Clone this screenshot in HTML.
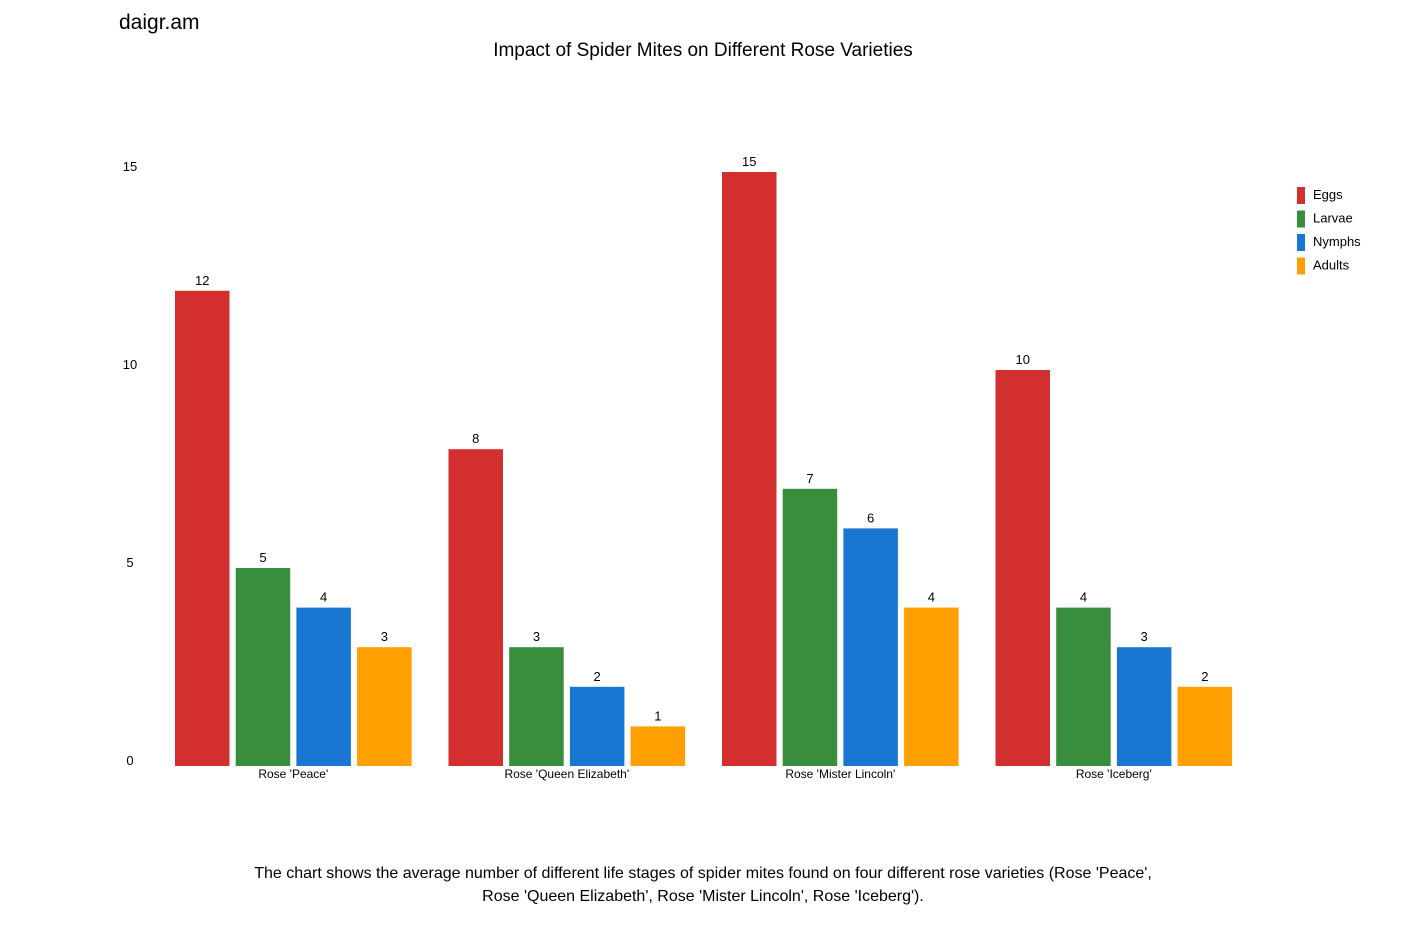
<!DOCTYPE html>
<html><head><meta charset="utf-8"><style>
body{margin:0;background:#fff;font-family:"Liberation Sans",Arial,sans-serif}
svg text{font-family:"Liberation Sans",Arial,sans-serif}
</style></head><body>
<svg id="chart" width="1406" height="937">
<text x="119" y="29" font-size="21" fill="#000">daigr.am</text>
<text x="703" y="56" font-size="19" text-anchor="middle" fill="#000">Impact of Spider Mites on Different Rose Varieties</text>
<g id="yaxis"></g>
<g id="bars"></g>
<g id="xaxis"></g>
<g id="legend"></g>
<text x="703" y="878" font-size="16" text-anchor="middle" fill="#000">The chart shows the average number of different life stages of spider mites found on four different rose varieties (Rose 'Peace',</text>
<text x="703" y="901" font-size="16" text-anchor="middle" fill="#000">Rose 'Queen Elizabeth', Rose 'Mister Lincoln', Rose 'Iceberg').</text>
</svg>
<script>
const categories=["Rose 'Peace'","Rose 'Queen Elizabeth'","Rose 'Mister Lincoln'","Rose 'Iceberg'"];
const seriesNames=["Eggs","Larvae","Nymphs","Adults"];
const eggs=[12,8,15,10];
const larvae=[5,3,7,4];
const nymphs=[4,2,6,3];
const adults=[3,1,4,2];
const yTicks=[0,5,10,15];
const colors=["#d32f2f","#388e3c","#1976d2","#ffa000"];
const series=[eggs,larvae,nymphs,adults];
const NS="http://www.w3.org/2000/svg";
const base=766, top15=172, yMax=15;
function y(v){return base-(base-top15)*v/yMax;}
const g0=175, gStep=273.5, bStep=60.7, bW=54.5;
function x(ci,si){return g0+ci*gStep+si*bStep;}
function mk(tag,attrs,parent){const e=document.createElementNS(NS,tag);for(const k in attrs)e.setAttribute(k,attrs[k]);parent.appendChild(e);return e;}
const ya=document.getElementById('yaxis'),bars=document.getElementById('bars'),xa=document.getElementById('xaxis'),lg=document.getElementById('legend');
yTicks.forEach(t=>{const e=mk('text',{x:130,y:y(t)-1,'font-size':13,'text-anchor':'middle',fill:'#000'},ya);e.textContent=t;

});
categories.forEach((c,ci)=>{
 series.forEach((s,si)=>{
  const v=s[ci];
  const r=mk('rect',{x:x(ci,si),y:y(v),width:bW,height:base-y(v),fill:colors[si]},bars);
  
  
  const t=mk('text',{x:x(ci,si)+bW/2,y:y(v)-6,'font-size':13,'text-anchor':'middle',fill:'#000'},bars);t.textContent=v;
  
  
 });
 const l=mk('text',{x:x(ci,0)+(3*bStep+bW)/2,y:778,'font-size':12,'text-anchor':'middle',fill:'#000'},xa);l.textContent=c;
 
 
});
seriesNames.forEach((n,i)=>{
 const yy=187+i*23.5;
 const r=mk('rect',{x:1297,y:yy,width:8,height:17,fill:colors[i]},lg);
 
 
 const t=mk('text',{x:1313,y:yy+12,'font-size':13,fill:'#000'},lg);t.textContent=n;
 
 
});
</script>
</body></html>
